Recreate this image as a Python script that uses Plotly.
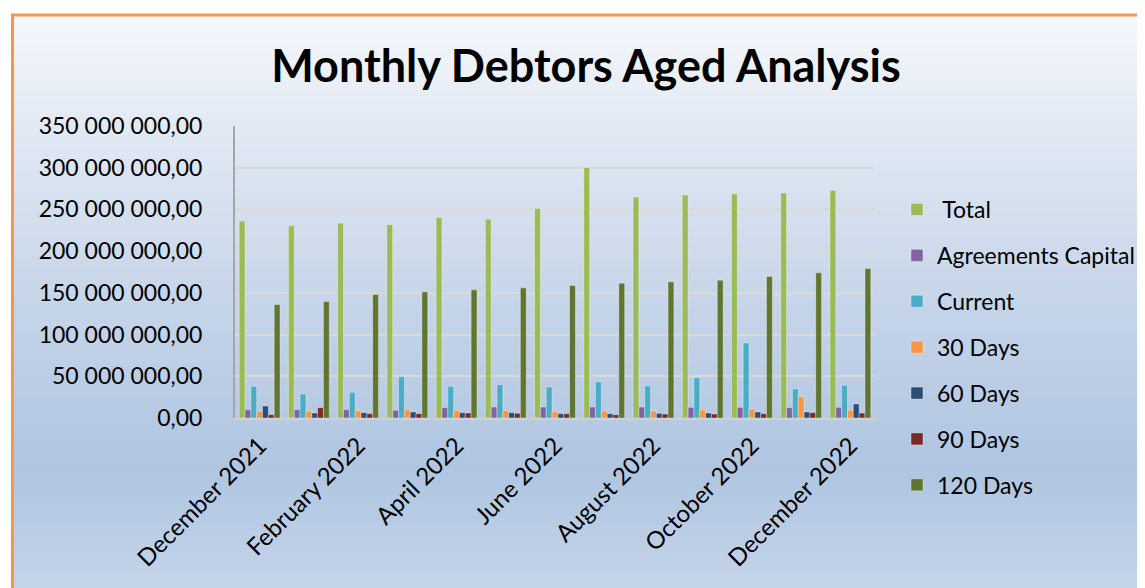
import plotly.graph_objects as go

months = ["December 2021", "January 2022", "February 2022", "March 2022", "April 2022",
          "May 2022", "June 2022", "July 2022", "August 2022", "September 2022",
          "October 2022", "November 2022", "December 2022"]

total = [236.0, 230.4, 233.6, 232.0, 240.4, 238.4, 251.2, 300.4, 264.8, 267.2, 268.8, 269.6, 272.8]
agreements_capital = [10.0, 10.0, 10.0, 9.2, 12.4, 13.2, 13.2, 13.2, 13.2, 12.8, 12.8, 12.4, 12.8]
current = [38.0, 28.8, 30.8, 49.6, 38.0, 40.0, 37.2, 43.2, 38.4, 48.4, 90.0, 34.8, 39.2]
days_30 = [8.0, 8.4, 8.8, 10.0, 9.2, 8.8, 7.6, 8.4, 8.4, 9.6, 10.8, 25.6, 9.2]
days_60 = [14.4, 6.0, 6.4, 7.2, 6.4, 6.4, 5.2, 5.2, 5.6, 6.0, 7.2, 7.2, 16.8]
days_90 = [4.0, 12.4, 5.2, 5.2, 6.0, 5.6, 5.2, 4.0, 4.8, 4.8, 5.2, 6.4, 6.0]
days_120 = [136.0, 139.6, 148.0, 151.2, 153.6, 156.0, 158.8, 161.6, 163.2, 165.2, 169.6, 174.0, 179.2]

series_names = ["\u00a0Total", "Agreements Capital", "Current", "30 Days", "60 Days", "90 Days", "120 Days"]
series_values = [total, agreements_capital, current, days_30, days_60, days_90, days_120]
series_colors = ["#9BBB59", "#8064A2", "#4BACC6", "#F79646", "#2C4D75", "#772C2A", "#5F7530"]

y_ticks = [0, 50, 100, 150, 200, 250, 300, 350]
y_tick_text = ["0,00", "50 000 000,00", "100 000 000,00", "150 000 000,00", "200 000 000,00",
               "250 000 000,00", "300 000 000,00", "350 000 000,00"]
x_tick_months = months[::2]

SCALE = 1_000_000

OFF = 8  # page body margin
W, H = 1145 - OFF, 588 - OFF
# plot area in screen pixels
SL, SR, ST, SB = 235, 875, 126, 418
L, R, T, B = SL - OFF, SR - OFF, ST - OFF, SB - OFF


def px_x(p):
    return (p - SL) / (SR - SL)


def px_y(p):
    return (SB - p) / (SB - ST)


fig = go.Figure()
for i, (name, vals, col) in enumerate(zip(series_names, series_values, series_colors)):
    fig.add_trace(go.Bar(
        x=months, y=[v * SCALE for v in vals], name=name,
        marker=dict(color=col, line=dict(color="rgba(255,255,255,0.35)", width=1)),
        legendgroup=f"g{i}",
    ))

# gradient background
stops = [(15, (246, 248, 252)), (120, (227, 234, 244)), (300, (198, 213, 233)),
         (470, (175, 197, 225)), (588, (197, 213, 233))]


def color_at(py):
    for (y0, c0), (y1, c1) in zip(stops[:-1], stops[1:]):
        if y0 <= py <= y1:
            t = (py - y0) / (y1 - y0)
            return "rgb(%d,%d,%d)" % tuple(round(a + (b - a) * t) for a, b in zip(c0, c1))
    return "rgb(%d,%d,%d)" % stops[-1][1]


shapes = []
step = 6
py = 15
while py < 590:
    shapes.append(dict(type="rect", xref="paper", yref="paper", layer="below",
                       x0=px_x(12), x1=px_x(1150), y0=px_y(py), y1=px_y(py + step + 1),
                       fillcolor=color_at(py + step / 2), line=dict(width=0)))
    py += step
shapes.append(dict(type="rect", xref="paper", yref="paper", layer="above",
                   x0=px_x(12.5), x1=px_x(1160), y0=px_y(15), y1=px_y(600),
                   fillcolor="rgba(0,0,0,0)", line=dict(color="#F79646", width=3)))

font_family = "Lato, 'Open Sans', sans-serif"
FS = 23

fig.update_layout(
    width=W, height=H,
    margin=dict(l=L, r=W - R, t=T, b=H - B, autoexpand=False),
    paper_bgcolor="white",
    plot_bgcolor="rgba(0,0,0,0)",
    barmode="group",
    bargap=0.17,
    bargroupgap=0.0,
    shapes=shapes,
    font=dict(family=font_family, color="black"),
    title=dict(text="<b>Monthly Debtors Aged Analysis</b>", xref="container", yref="container",
               x=(586 - OFF) / W, y=1 - (66 - OFF) / H, xanchor="center", yanchor="middle",
               font=dict(size=45, family=font_family, color="black")),
    legend=dict(x=px_x(897), xanchor="left", y=px_y(188), yanchor="top",
                font=dict(size=FS, family=font_family), bgcolor="rgba(0,0,0,0)",
                tracegroupgap=13, traceorder="grouped", maxheight=420),
    xaxis=dict(type="category", categoryorder="array", categoryarray=months,
               tickmode="array", tickvals=x_tick_months, ticktext=x_tick_months,
               tickangle=-45, tickfont=dict(size=24, family=font_family),
               showline=True, linecolor="#d0d0d0", linewidth=2, showgrid=False,
               ticks="", ticklabelstandoff=2),
    yaxis=dict(range=[0, 350 * SCALE], tickmode="array",
               tickvals=[v * SCALE for v in y_ticks], ticktext=y_tick_text,
               tickfont=dict(size=FS, family=font_family),
               showgrid=True, gridcolor="#d9d9d9", gridwidth=1.5,
               showline=True, linecolor="#a6a6a6", linewidth=2,
               zeroline=False, ticks="", ticklabelstandoff=26),
)

fig.write_html("out.html")
